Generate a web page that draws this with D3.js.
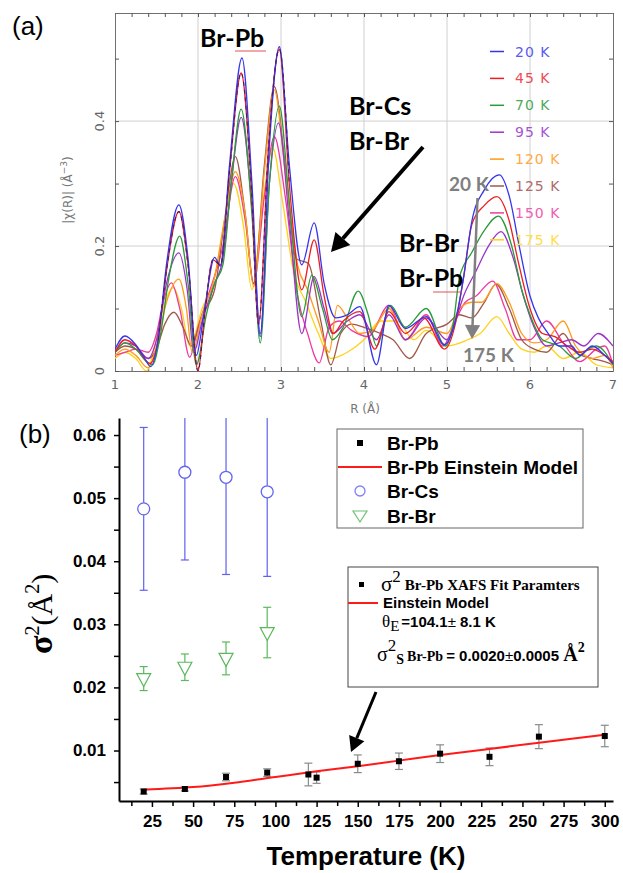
<!DOCTYPE html>
<html>
<head>
<meta charset="utf-8">
<script src="https://cdn.jsdelivr.net/npm/d3@7"></script>
<style>
body { margin: 0; background: #fff; }
svg { display: block; }
</style>
</head>
<body>
<svg id="chart" width="623" height="873"></svg>
<script>
// ---- panel (a): |chi(R)| spectra, [R (A), value] ----
var chi20 = [[1.0,0.035],[1.12,0.056],[1.25,0.042],[1.35,0.022],[1.43,0.007],[1.52,0.05],[1.62,0.17],[1.77,0.266],[1.88,0.18],[1.98,0.025],[2.08,0.1],[2.2,0.182],[2.27,0.168],[2.38,0.33],[2.53,0.501],[2.65,0.3],[2.75,0.055],[2.86,0.36],[2.98,0.519],[3.1,0.33],[3.25,0.17],[3.4,0.237],[3.52,0.14],[3.66,0.085],[3.8,0.09],[3.95,0.103],[4.15,0.01],[4.3,0.105],[4.5,0.068],[4.75,0.087],[4.97,0.042],[5.1,0.08],[5.2,0.15],[5.3,0.24],[5.45,0.29],[5.63,0.314],[5.75,0.28],[5.87,0.2],[6.0,0.12],[6.1,0.085],[6.22,0.06],[6.35,0.04],[6.5,0.04],[6.6,0.025],[6.75,0.04],[6.9,0.025],[7.0,0.012]];
var chi45 = [[1.0,0.03],[1.12,0.05],[1.25,0.04],[1.42,0.012],[1.52,0.05],[1.62,0.16],[1.77,0.255],[1.88,0.17],[2.0,0.0],[2.08,0.09],[2.18,0.178],[2.27,0.17],[2.38,0.32],[2.52,0.477],[2.64,0.3],[2.73,0.075],[2.85,0.36],[2.98,0.515],[3.1,0.3],[3.25,0.13],[3.4,0.21],[3.52,0.12],[3.63,0.06],[3.75,0.08],[3.95,0.095],[4.13,0.035],[4.3,0.095],[4.5,0.06],[4.72,0.085],[4.97,0.035],[5.1,0.075],[5.2,0.15],[5.3,0.235],[5.45,0.265],[5.6,0.279],[5.75,0.24],[5.85,0.18],[6.0,0.1],[6.15,0.06],[6.3,0.055],[6.45,0.04],[6.6,0.03],[6.75,0.035],[6.9,0.025],[7.0,0.015]];
var chi70 = [[1.0,0.03],[1.12,0.045],[1.25,0.035],[1.38,0.015],[1.45,0.01],[1.55,0.06],[1.65,0.15],[1.78,0.216],[1.88,0.14],[1.98,0.01],[2.1,0.09],[2.2,0.14],[2.3,0.17],[2.4,0.3],[2.52,0.419],[2.65,0.25],[2.75,0.045],[2.86,0.3],[2.98,0.424],[3.1,0.27],[3.25,0.087],[3.37,0.153],[3.5,0.1],[3.62,0.05],[3.75,0.07],[3.93,0.128],[4.05,0.09],[4.15,0.04],[4.32,0.105],[4.5,0.07],[4.75,0.1],[4.98,0.04],[5.08,0.08],[5.15,0.15],[5.3,0.19],[5.45,0.225],[5.62,0.248],[5.78,0.2],[5.9,0.13],[6.0,0.09],[6.15,0.05],[6.35,0.04],[6.55,0.02],[6.7,0.035],[6.8,0.04],[7.0,0.01]];
var chi95 = [[1.0,0.03],[1.12,0.045],[1.25,0.04],[1.4,0.02],[1.5,0.05],[1.62,0.14],[1.77,0.189],[1.87,0.13],[1.95,0.03],[2.05,0.08],[2.2,0.14],[2.3,0.18],[2.4,0.3],[2.52,0.406],[2.65,0.26],[2.75,0.06],[2.86,0.3],[2.97,0.397],[3.1,0.24],[3.25,0.06],[3.4,0.151],[3.52,0.1],[3.62,0.06],[3.8,0.08],[3.95,0.09],[4.15,0.05],[4.3,0.09],[4.5,0.05],[4.75,0.085],[5.0,0.05],[5.1,0.08],[5.2,0.12],[5.35,0.16],[5.5,0.2],[5.65,0.223],[5.8,0.18],[5.92,0.12],[6.05,0.07],[6.2,0.04],[6.35,0.045],[6.5,0.05],[6.65,0.04],[6.82,0.06],[7.0,0.04]];
var chi120 = [[1.0,0.025],[1.12,0.035],[1.25,0.025],[1.4,0.005],[1.5,0.04],[1.62,0.11],[1.77,0.147],[1.86,0.1],[1.93,0.03],[2.05,0.09],[2.2,0.15],[2.33,0.25],[2.45,0.319],[2.57,0.25],[2.67,0.135],[2.8,0.32],[2.92,0.45],[3.05,0.32],[3.2,0.17],[3.32,0.13],[3.45,0.08],[3.58,0.03],[3.68,0.105],[3.8,0.085],[3.95,0.06],[4.1,0.065],[4.3,0.1],[4.5,0.05],[4.75,0.07],[5.0,0.06],[5.15,0.1],[5.3,0.11],[5.42,0.11],[5.6,0.14],[5.75,0.11],[5.9,0.06],[6.05,0.045],[6.2,0.05],[6.4,0.08],[6.55,0.04],[6.75,0.02],[6.9,0.025],[7.0,0.005]];
var chi125 = [[1.0,0.03],[1.12,0.04],[1.25,0.035],[1.4,0.02],[1.5,0.035],[1.6,0.075],[1.71,0.094],[1.82,0.07],[1.92,0.04],[2.05,0.09],[2.2,0.13],[2.33,0.25],[2.45,0.343],[2.57,0.25],[2.67,0.14],[2.8,0.33],[2.92,0.455],[3.05,0.33],[3.18,0.18],[3.33,0.172],[3.48,0.08],[3.6,0.01],[3.72,0.06],[3.85,0.075],[4.0,0.07],[4.2,0.06],[4.35,0.05],[4.55,0.02],[4.75,0.06],[5.0,0.075],[5.15,0.09],[5.3,0.085],[5.45,0.11],[5.59,0.139],[5.75,0.1],[5.9,0.05],[6.05,0.035],[6.2,0.03],[6.4,0.06],[6.55,0.03],[6.75,0.02],[6.9,0.015],[7.0,0.01]];
var chi150 = [[1.0,0.025],[1.12,0.03],[1.25,0.035],[1.4,0.03],[1.5,0.06],[1.58,0.11],[1.68,0.141],[1.78,0.1],[1.9,0.022],[2.0,0.07],[2.12,0.12],[2.3,0.2],[2.45,0.311],[2.57,0.24],[2.67,0.14],[2.8,0.28],[2.92,0.375],[3.05,0.28],[3.2,0.12],[3.32,0.06],[3.46,0.013],[3.58,0.07],[3.7,0.08],[3.85,0.065],[4.05,0.055],[4.3,0.105],[4.5,0.05],[4.75,0.09],[4.95,0.04],[5.1,0.08],[5.22,0.11],[5.35,0.12],[5.55,0.144],[5.7,0.1],[5.85,0.05],[6.0,0.05],[6.2,0.08],[6.4,0.045],[6.6,0.015],[6.8,0.035],[6.9,0.04],[7.0,0.01]];
var chi175 = [[1.0,0.02],[1.12,0.03],[1.25,0.02],[1.38,0.0],[1.48,0.04],[1.58,0.1],[1.7,0.133],[1.8,0.1],[1.9,0.04],[2.05,0.1],[2.2,0.15],[2.32,0.24],[2.43,0.30],[2.55,0.23],[2.65,0.13],[2.78,0.27],[2.9,0.357],[3.02,0.27],[3.15,0.16],[3.3,0.11],[3.45,0.06],[3.6,0.02],[3.8,0.03],[4.0,0.05],[4.2,0.08],[4.4,0.08],[4.6,0.05],[4.75,0.065],[5.0,0.04],[5.25,0.05],[5.4,0.06],[5.6,0.087],[5.75,0.06],[5.9,0.035],[6.05,0.03],[6.2,0.04],[6.4,0.02],[6.6,0.03],[6.8,0.01],[7.0,0.005]];

var tempLabels = ["20 K", "45 K", "70 K", "95 K", "120 K", "125 K", "150 K", "175 K"];
var rTicks = [1, 2, 3, 4, 5, 6, 7];
var chiTicks = [0, 0.2, 0.4];

// ---- panel (b): sigma^2 vs temperature ----
var tempPb = [20, 45, 70, 95, 120, 125, 150, 175, 200, 230, 260, 300];
var sigPb  = [0.0035, 0.0039, 0.0058, 0.0065, 0.0062, 0.0057, 0.0079, 0.0083, 0.0095, 0.0090, 0.0122, 0.0123];
var errPb  = [0.0004, 0.0003, 0.0006, 0.0006, 0.0018, 0.0009, 0.0014, 0.0013, 0.0014, 0.0014, 0.0019, 0.0017];

var tempFit = [20, 50, 75, 100, 125, 150, 175, 200, 225, 250, 275, 300];
var sigFit  = [0.0038, 0.0042, 0.0049, 0.0058, 0.0067, 0.0075, 0.0084, 0.0093, 0.0101, 0.0109, 0.0117, 0.0125];

var tempCs = [20, 45, 70, 95];
var sigCs  = [0.0483, 0.0541, 0.0533, 0.0510];
var errCs  = [0.0129, 0.0139, 0.0154, 0.0134];

var tempBr = [20, 45, 70, 95];
var sigBr  = [0.0214, 0.0232, 0.0246, 0.0287];
var errBr  = [0.0019, 0.0021, 0.0026, 0.0040];

var tempTicks = [25, 50, 75, 100, 125, 150, 175, 200, 225, 250, 275, 300];
var sigTicks = [0.01, 0.02, 0.03, 0.04, 0.05, 0.06];

var svg = d3.select("#chart");

var curves = [chi20, chi45, chi70, chi95, chi120, chi125, chi150, chi175];
var lineColors = ["#3535ee", "#ee1c24", "#2a9a3a", "#9a35c8", "#ff9a1a", "#a0584a", "#ee3aa0", "#ffd21a"];
var textColors = ["#5a5af0", "#f04a55", "#4caa5a", "#a855d0", "#ffaa44", "#b06a6a", "#f060b0", "#ffdd44"];

// ================= panel (a) =================
var xa = d3.scaleLinear().domain([1, 7]).range([115, 613]);
var ya = d3.scaleLinear().domain([0, 0.573]).range([371, 13]);

svg.append("clipPath").attr("id", "clipA")
  .append("rect").attr("x", 115).attr("y", 13).attr("width", 498).attr("height", 358);

var gA = svg.append("g");

// grid
gA.selectAll("line.vgrid").data([2, 3, 4, 5, 6]).enter().append("line")
  .attr("x1", d => xa(d)).attr("x2", d => xa(d))
  .attr("y1", 13).attr("y2", 371)
  .attr("stroke", "#d0d0d0").attr("stroke-width", 1);
gA.selectAll("line.hgrid").data([0.2, 0.4]).enter().append("line")
  .attr("x1", 115).attr("x2", 613)
  .attr("y1", d => ya(d)).attr("y2", d => ya(d))
  .attr("stroke", "#d0d0d0").attr("stroke-width", 1);

// axes with inward ticks
var rMinor = d3.range(10, 71, 2).map(d => d / 10);
var chiMinor = [0, 0.1, 0.2, 0.3, 0.4, 0.5];
var axStyle = function (g) {
  g.select(".domain").attr("stroke", "#707070");
  g.selectAll(".tick line").attr("stroke", "#555");
};
gA.append("g").attr("transform", "translate(0,371)")
  .call(d3.axisBottom(xa).tickValues(rMinor).tickSize(-4).tickSizeOuter(0).tickFormat(""))
  .call(axStyle);
gA.append("g").attr("transform", "translate(0,13)")
  .call(d3.axisTop(xa).tickValues(rMinor).tickSize(-4).tickSizeOuter(0).tickFormat(""))
  .call(axStyle);
gA.append("g").attr("transform", "translate(115,0)")
  .call(d3.axisLeft(ya).tickValues(chiMinor).tickSize(-4).tickSizeOuter(0).tickFormat(""))
  .call(axStyle);
gA.append("g").attr("transform", "translate(613,0)")
  .call(d3.axisRight(ya).tickValues(chiMinor).tickSize(-4).tickSizeOuter(0).tickFormat(""))
  .call(axStyle);

// tick labels
gA.selectAll("text.rlab").data(rTicks).enter().append("text")
  .attr("x", d => xa(d)).attr("y", 389)
  .attr("text-anchor", "middle")
  .style("font", "13px 'DejaVu Sans'").attr("fill", "#666")
  .text(d => d);
gA.selectAll("text.clab").data(chiTicks).enter().append("text")
  .attr("transform", d => "translate(104," + ya(d) + ") rotate(-90)")
  .attr("text-anchor", "middle")
  .style("font", "13px 'DejaVu Sans'").attr("fill", "#666")
  .text(d => d === 0 ? "0" : d.toFixed(1));

gA.append("text").attr("x", 365).attr("y", 413).attr("text-anchor", "middle")
  .style("font", "12px 'DejaVu Sans'").attr("fill", "#777").text("R (Å)");
var yt = gA.append("text").attr("transform", "translate(72,190) rotate(-90)")
  .attr("text-anchor", "middle").style("font", "12px 'DejaVu Sans'").attr("fill", "#777");
yt.append("tspan").text("|χ(R)|  (Å");
yt.append("tspan").attr("dy", -5).style("font-size", "9px").text("−3");
yt.append("tspan").attr("dy", 5).text(")");

// spectra
var lineA = d3.line().x(d => xa(d[0])).y(d => ya(d[1])).curve(d3.curveMonotoneX);
var plotA = gA.append("g").attr("clip-path", "url(#clipA)");
for (var i = curves.length - 1; i >= 0; i--) {
  plotA.append("path").datum(curves[i])
    .attr("d", lineA).attr("fill", "none")
    .attr("stroke", lineColors[i]).attr("stroke-width", 1.3);
}
// dark dashed overlay on the main peaks
plotA.append("path").datum(chi45.filter(d => d[0] >= 1.45 && d[0] <= 3.15))
  .attr("d", lineA).attr("fill", "none")
  .attr("stroke", "#4a2060").attr("stroke-width", 1.2).attr("stroke-dasharray", "4,4");

// legend (a)
var legA = gA.selectAll("g.lega").data(tempLabels).enter().append("g")
  .attr("transform", (d, i) => "translate(0," + (51.5 + i * 26.9) + ")");
legA.append("line").attr("x1", 490).attr("x2", 504)
  .attr("stroke", (d, i) => lineColors[i]).attr("stroke-width", 1.5);
legA.append("text").attr("x", 515).attr("dy", "0.36em")
  .style("font", "14px 'DejaVu Sans'").style("letter-spacing", "1px")
  .attr("fill", (d, i) => textColors[i]).text(d => d.replace(" ", "  "));

function arrow(g, x1, y1, x2, y2, color, width, head) {
  var ang = Math.atan2(y2 - y1, x2 - x1);
  var bx = x2 - head * Math.cos(ang), by = y2 - head * Math.sin(ang);
  g.append("line").attr("x1", x1).attr("y1", y1).attr("x2", bx).attr("y2", by)
    .attr("stroke", color).attr("stroke-width", width);
  var w = head * 0.55;
  var pts = [[x2, y2],
    [bx + w * Math.sin(ang), by - w * Math.cos(ang)],
    [bx - w * Math.sin(ang), by + w * Math.cos(ang)]];
  g.append("polygon").attr("points", pts.map(p => p.join(",")).join(" ")).attr("fill", color);
}

// annotations (a)
var annFont = "bold 25px Lato";
var annA = [["Br-Pb", 200, 47], ["Br-Cs", 349, 115], ["Br-Br", 349, 150], ["Br-Br", 399, 252], ["Br-Pb", 399, 287]];
annA.forEach(function (a) {
  gA.append("text").attr("x", a[1]).attr("y", a[2]).style("font", annFont).attr("fill", "#000").text(a[0]);
});
gA.append("line").attr("x1", 235).attr("x2", 266).attr("y1", 51).attr("y2", 51).attr("stroke", "#e05050").attr("stroke-width", 1);
gA.append("line").attr("x1", 433).attr("x2", 462).attr("y1", 292).attr("y2", 292).attr("stroke", "#e05050").attr("stroke-width", 1);
arrow(gA, 423, 147, 331, 252, "#000", 4, 18);
gA.append("text").attr("x", 449).attr("y", 191).style("font", "bold 19px Lato").attr("fill", "#7f7f7f").text("20 K");
gA.append("text").attr("x", 463).attr("y", 362).style("font", "bold 19px Lato").attr("fill", "#7f7f7f").text("175 K");
arrow(gA, 477.5, 198, 472, 339, "#808080", 2.5, 14);

svg.append("text").attr("x", 12).attr("y", 35).style("font", "26px 'Liberation Sans', Arial").text("(a)");

// ================= panel (b) =================
var xb = d3.scaleLinear().domain([5, 305]).range([119, 613]);
var yb = d3.scaleLinear().domain([0.002, 0.0627]).range([801, 418]);

svg.append("clipPath").attr("id", "clipB")
  .append("rect").attr("x", 119).attr("y", 418).attr("width", 494).attr("height", 383);

var gB = svg.append("g");
var tickFontB = "bold 17px 'Liberation Sans', Arial";

gB.append("g").attr("transform", "translate(0,801)")
  .call(d3.axisBottom(xb).tickValues(d3.range(12.5, 301, 25)).tickSize(5).tickSizeOuter(0).tickFormat(""))
  .call(g => g.select(".domain").remove())
  .call(g => g.selectAll(".tick line").attr("stroke", "#000").attr("stroke-width", 1.5));
gB.append("g").attr("transform", "translate(0,801)")
  .call(d3.axisBottom(xb).tickValues(tempTicks).tickSize(6).tickSizeOuter(0).tickPadding(8))
  .call(g => g.select(".domain").attr("stroke", "#000").attr("stroke-width", 2))
  .call(g => g.selectAll(".tick line").attr("stroke", "#000").attr("stroke-width", 1.5))
  .call(g => g.selectAll(".tick text").style("font", tickFontB).attr("fill", "#000"));

gB.append("g").attr("transform", "translate(119,0)")
  .call(d3.axisLeft(yb).tickValues([0.005, 0.015, 0.025, 0.035, 0.045, 0.055]).tickSize(5).tickSizeOuter(0).tickFormat(""))
  .call(g => g.select(".domain").remove())
  .call(g => g.selectAll(".tick line").attr("stroke", "#000").attr("stroke-width", 1.5));
gB.append("g").attr("transform", "translate(119,0)")
  .call(d3.axisLeft(yb).tickValues(sigTicks).tickSize(5).tickSizeOuter(0).tickPadding(8).tickFormat(d3.format(".2f")))
  .call(g => g.select(".domain").attr("stroke", "#000").attr("stroke-width", 2))
  .call(g => g.selectAll(".tick line").attr("stroke", "#000").attr("stroke-width", 1.5))
  .call(g => g.selectAll(".tick text").style("font", tickFontB).attr("fill", "#000"));

// axis titles
gB.append("text").attr("x", 366).attr("y", 865).attr("text-anchor", "middle")
  .style("font", "bold 26px 'Liberation Sans', Arial").text("Temperature (K)");
var ytB = gB.append("text").attr("transform", "translate(52,612) rotate(-90)")
  .attr("text-anchor", "start").attr("x", -42).style("font-family", "'Liberation Serif', 'Times New Roman', serif");
ytB.append("tspan").style("font-size", "34px").style("font-weight", "bold").text("σ");
ytB.append("tspan").attr("dy", -13).style("font-size", "20px").text("2");
ytB.append("tspan").attr("dy", 13).style("font-size", "30px").text("(Å");
ytB.append("tspan").attr("dy", -13).style("font-size", "20px").text("2");
ytB.append("tspan").attr("dy", 13).style("font-size", "30px").text(")");

var plotB = gB.append("g").attr("clip-path", "url(#clipB)");

function errorBars(g, ts, vs, es, color, cap) {
  ts.forEach(function (t, i) {
    var x = xb(t), y1 = yb(vs[i] - es[i]), y2 = yb(vs[i] + es[i]);
    g.append("line").attr("x1", x).attr("x2", x).attr("y1", y1).attr("y2", y2).attr("stroke", color).attr("stroke-width", 1.2);
    [y1, y2].forEach(function (yy) {
      g.append("line").attr("x1", x - cap).attr("x2", x + cap).attr("y1", yy).attr("y2", yy).attr("stroke", color).attr("stroke-width", 1.2);
    });
  });
}

// Br-Cs
errorBars(plotB, tempCs, sigCs, errCs, "#6060f0", 4);
plotB.selectAll("circle.cs").data(tempCs).enter().append("circle")
  .attr("cx", d => xb(d)).attr("cy", (d, i) => yb(sigCs[i])).attr("r", 6)
  .attr("fill", "#fff").attr("stroke", "#6464f2").attr("stroke-width", 1.3);

// Br-Br
errorBars(plotB, tempBr, sigBr, errBr, "#5cb85c", 4);
plotB.selectAll("path.br").data(tempBr).enter().append("path")
  .attr("d", (d, i) => {
    var x = xb(d), y = yb(sigBr[i]);
    return "M" + (x - 7) + "," + (y - 5) + "L" + (x + 7) + "," + (y - 5) + "L" + x + "," + (y + 8) + "Z";
  })
  .attr("fill", "#fff").attr("stroke", "#5cb85c").attr("stroke-width", 1.2);

// Br-Pb
errorBars(plotB, tempPb, sigPb, errPb, "#8a8a8a", 4);
plotB.append("path").datum(tempFit.map((t, i) => [t, sigFit[i]]))
  .attr("d", d3.line().x(d => xb(d[0])).y(d => yb(d[1])).curve(d3.curveMonotoneX))
  .attr("fill", "none").attr("stroke", "#ff1a1a").attr("stroke-width", 2);
plotB.selectAll("rect.pb").data(tempPb).enter().append("rect")
  .attr("x", d => xb(d) - 3).attr("y", (d, i) => yb(sigPb[i]) - 3)
  .attr("width", 6).attr("height", 6).attr("fill", "#000");

// legend box 1
var lg1 = gB.append("g");
lg1.append("rect").attr("x", 337).attr("y", 429).attr("width", 246).attr("height", 99)
  .attr("fill", "#fff").attr("stroke", "#666").attr("stroke-width", 1);
var legFont = "bold 19px 'Liberation Sans', Arial";
var legNames = ["Br-Pb", "Br-Pb Einstein Model", "Br-Cs", "Br-Br"];
var legY = [443, 467, 491, 516];
legNames.forEach(function (n, i) {
  lg1.append("text").attr("x", 387).attr("y", legY[i]).attr("dy", "0.36em").style("font", legFont).text(n);
});
lg1.append("rect").attr("x", 357).attr("y", legY[0] - 3).attr("width", 6).attr("height", 6).attr("fill", "#000");
lg1.append("line").attr("x1", 338).attr("x2", 382).attr("y1", legY[1]).attr("y2", legY[1]).attr("stroke", "#ff1a1a").attr("stroke-width", 2);
lg1.append("circle").attr("cx", 360).attr("cy", legY[2]).attr("r", 5).attr("fill", "none").attr("stroke", "#8080f5").attr("stroke-width", 1.3);
lg1.append("path").attr("d", "M353," + (legY[3] - 5) + "L367," + (legY[3] - 5) + "L360," + (legY[3] + 6) + "Z")
  .attr("fill", "none").attr("stroke", "#70c070").attr("stroke-width", 1.2);

// legend box 2
var lg2 = gB.append("g");
lg2.append("rect").attr("x", 348).attr("y", 567).attr("width", 250).attr("height", 120)
  .attr("fill", "#fff").attr("stroke", "#444").attr("stroke-width", 1);
lg2.append("rect").attr("x", 359).attr("y", 582).attr("width", 5).attr("height", 5).attr("fill", "#000");
var serif = "'Liberation Serif', 'Times New Roman', serif";
var t1 = lg2.append("text").attr("x", 381).attr("y", 591).style("font-family", serif).style("font-weight", "bold");
t1.append("tspan").style("font-size", "21px").style("font-weight", "normal").text("σ");
t1.append("tspan").attr("dy", -9).style("font-size", "17px").style("font-weight", "normal").text("2");
t1.append("tspan").attr("dy", 8).attr("dx", 4).style("font-size", "15px").text("Br-Pb XAFS Fit Paramters");
lg2.append("line").attr("x1", 348).attr("x2", 378).attr("y1", 603).attr("y2", 603).attr("stroke", "#ff1a1a").attr("stroke-width", 2);
lg2.append("text").attr("x", 383).attr("y", 608).style("font", "bold 15px 'Liberation Sans', Arial").text("Einstein Model");
var t3 = lg2.append("text").attr("x", 382).attr("y", 627);
t3.append("tspan").style("font", "17px " + serif).text("θ");
t3.append("tspan").attr("dy", 4).style("font", "15px " + serif).text("E");
t3.append("tspan").attr("dy", -4).attr("dx", 2).style("font", "bold 15px 'Liberation Sans', Arial").text("=104.1");
t3.append("tspan").style("font", "15px 'Liberation Sans', Arial").text("±");
t3.append("tspan").style("font", "bold 15px 'Liberation Sans', Arial").text(" 8.1 K");
var t4 = lg2.append("text").attr("x", 377).attr("y", 661);
t4.append("tspan").style("font", "20px " + serif).text("σ");
t4.append("tspan").attr("dy", -10).style("font", "17px " + serif).text("2");
t4.append("tspan").attr("dy", 13).style("font", "bold 14px " + serif).text("S");
t4.append("tspan").attr("dy", -3).attr("dx", 3).style("font", "bold 14px " + serif).text("Br-Pb");
t4.append("tspan").attr("dx", 3).style("font", "bold 15px 'Liberation Sans', Arial").text("= 0.0020");
t4.append("tspan").style("font", "15px 'Liberation Sans', Arial").text("±");
t4.append("tspan").style("font", "bold 15px 'Liberation Sans', Arial").text("0.0005 ");
t4.append("tspan").style("font", "bold 20px " + serif).text("Å");
t4.append("tspan").attr("dy", -9).style("font", "bold 14px " + serif).text("2");

arrow(gB, 376, 692, 351, 752, "#000", 3, 15);

svg.append("text").attr("x", 19).attr("y", 443).style("font", "26px 'Liberation Sans', Arial").text("(b)");
</script>
</body>
</html>
